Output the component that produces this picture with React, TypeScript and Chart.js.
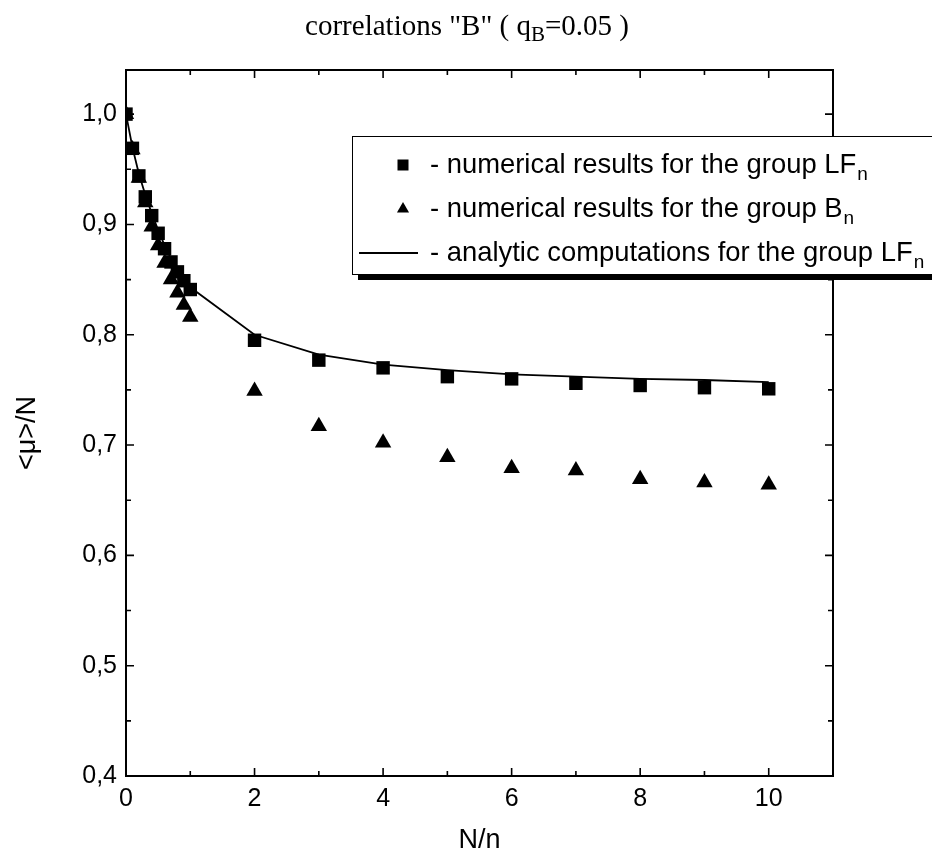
import React, { useEffect, useRef } from "react";
import { Chart, registerables } from "chart.js";

Chart.register(...registerables);

// ---- data ----
const X_VALUES = [0, 0.1, 0.2, 0.3, 0.4, 0.5, 0.6, 0.7, 0.8, 0.9, 1, 2, 3, 4, 5, 6, 7, 8, 9, 10];
const LF_NUMERIC = [1.0, 0.969, 0.944, 0.925, 0.908, 0.892, 0.878, 0.866, 0.857, 0.849, 0.841, 0.795, 0.777, 0.77, 0.762, 0.76, 0.756, 0.754, 0.752, 0.751];
const B_NUMERIC = [1.0, 0.968, 0.942, 0.92, 0.898, 0.881, 0.865, 0.85, 0.838, 0.827, 0.816, 0.749, 0.717, 0.702, 0.689, 0.679, 0.677, 0.669, 0.666, 0.664];
const LF_ANALYTIC = [1.0, 0.97, 0.946, 0.927, 0.91, 0.895, 0.881, 0.869, 0.859, 0.851, 0.843, 0.8, 0.782, 0.773, 0.768, 0.764, 0.762, 0.76, 0.759, 0.757];

const X_TICKS = [0, 2, 4, 6, 8, 10];
const X_MINOR = [1, 3, 5, 7, 9];
const Y_TICKS = [0.4, 0.5, 0.6, 0.7, 0.8, 0.9, 1.0];
const Y_MINOR = [0.45, 0.55, 0.65, 0.75, 0.85, 0.95];

const LEGEND_LABELS = [
  { text: "- numerical results for the group LF", sub: "n" },
  { text: "- numerical results for the group B", sub: "n" },
  { text: "- analytic computations for the group LF", sub: "n" },
];
const TITLE_MAIN = 'correlations "B" ( q';
const TITLE_SUB = "B";
const TITLE_END = "=0.05 )";
const X_TITLE = "N/n";
const Y_TITLE = "<\u03bc>/N";

const SANS = "'Liberation Sans', Arial, Helvetica, sans-serif";
const SERIF = "'Liberation Serif', 'Times New Roman', serif";

const framePlugin = {
  id: "frameTicks",
  afterDraw(chart: any) {
    const ctx = chart.ctx as CanvasRenderingContext2D;
    const { left, right, top, bottom } = chart.chartArea;
    const xs = chart.scales.x;
    const ys = chart.scales.y;
    ctx.save();
    ctx.strokeStyle = "#000";
    ctx.fillStyle = "#000";
    // frame
    ctx.lineWidth = 2;
    ctx.beginPath();
    ctx.rect(left, top, right - left, bottom - top);
    ctx.stroke();
    // inward ticks
    ctx.lineWidth = 1.6;
    const major = 8;
    const minor = 5;
    ctx.beginPath();
    X_TICKS.forEach((v) => {
      const px = xs.getPixelForValue(v);
      ctx.moveTo(px, bottom);
      ctx.lineTo(px, bottom - major);
      ctx.moveTo(px, top);
      ctx.lineTo(px, top + major);
    });
    X_MINOR.forEach((v) => {
      const px = xs.getPixelForValue(v);
      ctx.moveTo(px, bottom);
      ctx.lineTo(px, bottom - minor);
      ctx.moveTo(px, top);
      ctx.lineTo(px, top + minor);
    });
    Y_TICKS.forEach((v) => {
      const py = ys.getPixelForValue(v);
      ctx.moveTo(left, py);
      ctx.lineTo(left + major, py);
      ctx.moveTo(right, py);
      ctx.lineTo(right - major, py);
    });
    Y_MINOR.forEach((v) => {
      const py = ys.getPixelForValue(v);
      ctx.moveTo(left, py);
      ctx.lineTo(left + minor, py);
      ctx.moveTo(right, py);
      ctx.lineTo(right - minor, py);
    });
    ctx.stroke();

    // title
    ctx.textBaseline = "alphabetic";
    ctx.textAlign = "left";
    const titleFont = `29px ${SERIF}`;
    const subFont = `21px ${SERIF}`;
    ctx.font = titleFont;
    const w1 = ctx.measureText(TITLE_MAIN).width;
    const w3 = ctx.measureText(TITLE_END).width;
    ctx.font = subFont;
    const w2 = ctx.measureText(TITLE_SUB).width;
    let tx = 467 - (w1 + w2 + w3) / 2;
    const tBase = 35;
    ctx.font = titleFont;
    ctx.fillText(TITLE_MAIN, tx, tBase);
    tx += w1;
    ctx.font = subFont;
    ctx.fillText(TITLE_SUB, tx, tBase + 6);
    tx += w2;
    ctx.font = titleFont;
    ctx.fillText(TITLE_END, tx, tBase);

    // axis titles
    ctx.font = `27px ${SANS}`;
    ctx.textAlign = "center";
    ctx.textBaseline = "middle";
    ctx.fillText(X_TITLE, (left + right) / 2, 841);
    ctx.save();
    ctx.translate(28, (top + bottom) / 2 + 10);
    ctx.rotate(-Math.PI / 2);
    ctx.fillText(Y_TITLE, 0, 0);
    ctx.restore();

    // legend
    const bx = 352;
    const by = 136;
    const bw = 600;
    const bh = 138;
    ctx.fillStyle = "#000";
    ctx.fillRect(bx + 6, by + 6, bw, bh);
    ctx.fillStyle = "#fff";
    ctx.fillRect(bx, by, bw, bh);
    ctx.lineWidth = 1;
    ctx.strokeStyle = "#000";
    ctx.strokeRect(bx + 0.5, by + 0.5, bw, bh);
    ctx.fillStyle = "#000";
    const rows = [165, 209, 253];
    const textX = 430;
    const mainFont = `27.4px ${SANS}`;
    const legSub = `19px ${SANS}`;
    ctx.textAlign = "left";
    ctx.textBaseline = "alphabetic";
    LEGEND_LABELS.forEach((lab, i) => {
      const cy = rows[i];
      const base = cy + 8;
      ctx.font = mainFont;
      ctx.fillText(lab.text, textX, base);
      const w = ctx.measureText(lab.text).width;
      ctx.font = legSub;
      ctx.fillText(lab.sub, textX + w + 1, base + 7);
    });
    // legend symbols
    const mx = 403;
    ctx.fillRect(mx - 5.5, rows[0] - 5.5, 11, 11);
    ctx.beginPath();
    const r = 7;
    ctx.moveTo(mx, rows[1] - r);
    ctx.lineTo(mx + r * 0.866, rows[1] + r / 2);
    ctx.lineTo(mx - r * 0.866, rows[1] + r / 2);
    ctx.closePath();
    ctx.fill();
    ctx.lineWidth = 1.8;
    ctx.beginPath();
    ctx.moveTo(359, rows[2]);
    ctx.lineTo(418, rows[2]);
    ctx.stroke();
    ctx.restore();
  },
};

export default function App() {
  const ref = useRef<HTMLCanvasElement | null>(null);
  useEffect(() => {
    document.body.style.margin = "0";
    const canvas = ref.current;
    if (!canvas) return;
    const pts = (ys: number[]) => X_VALUES.map((x, i) => ({ x, y: ys[i] }));
    const tickFont = { family: SANS, size: 25 };
    const chart = new Chart(canvas, {
      type: "scatter",
      data: {
        datasets: [
          {
            label: "analytic computations for the group LFn",
            data: pts(LF_ANALYTIC),
            showLine: true,
            borderColor: "#000",
            borderWidth: 1.8,
            pointRadius: 0,
            tension: 0,
            order: 3,
          } as any,
          {
            label: "numerical results for the group Bn",
            data: pts(B_NUMERIC),
            pointStyle: "triangle",
            pointRadius: 9.5,
            backgroundColor: "#000",
            borderColor: "#000",
            borderWidth: 0,
            order: 2,
          },
          {
            label: "numerical results for the group LFn",
            data: pts(LF_NUMERIC),
            pointStyle: "rect",
            pointRadius: 9.5,
            backgroundColor: "#000",
            borderColor: "#000",
            borderWidth: 0,
            order: 1,
          },
        ],
      },
      options: {
        animation: false,
        responsive: false,
        devicePixelRatio: 1,
        layout: { padding: { left: 0, right: 99, top: 70, bottom: 0 } },
        plugins: {
          legend: { display: false },
          title: { display: false },
          tooltip: { enabled: false },
        },
        scales: {
          x: {
            type: "linear",
            min: 0,
            max: 11,
            grid: { display: false, drawTicks: false },
            border: { display: false },
            afterBuildTicks: (s: any) => {
              s.ticks = X_TICKS.map((v) => ({ value: v }));
            },
            afterFit: (s: any) => {
              s.height = 88;
            },
            ticks: {
              color: "#000",
              font: tickFont,
              padding: 8,
              maxRotation: 0,
              autoSkip: false,
              callback: (v: any) => String(v),
            },
          },
          y: {
            type: "linear",
            min: 0.4,
            max: 1.04,
            grid: { display: false, drawTicks: false },
            border: { display: false },
            afterBuildTicks: (s: any) => {
              s.ticks = Y_TICKS.map((v) => ({ value: v }));
            },
            afterFit: (s: any) => {
              s.width = 126;
            },
            ticks: {
              color: "#000",
              font: tickFont,
              padding: 9,
              autoSkip: false,
              callback: (v: any) => Number(v).toFixed(1).replace(".", ","),
            },
          },
        },
      },
      plugins: [framePlugin],
    });
    return () => chart.destroy();
  }, []);
  return (
    <div style={{ width: 932, height: 864, background: "#fff" }}>
      <canvas ref={ref} width={932} height={864} style={{ display: "block" }} />
    </div>
  );
}
